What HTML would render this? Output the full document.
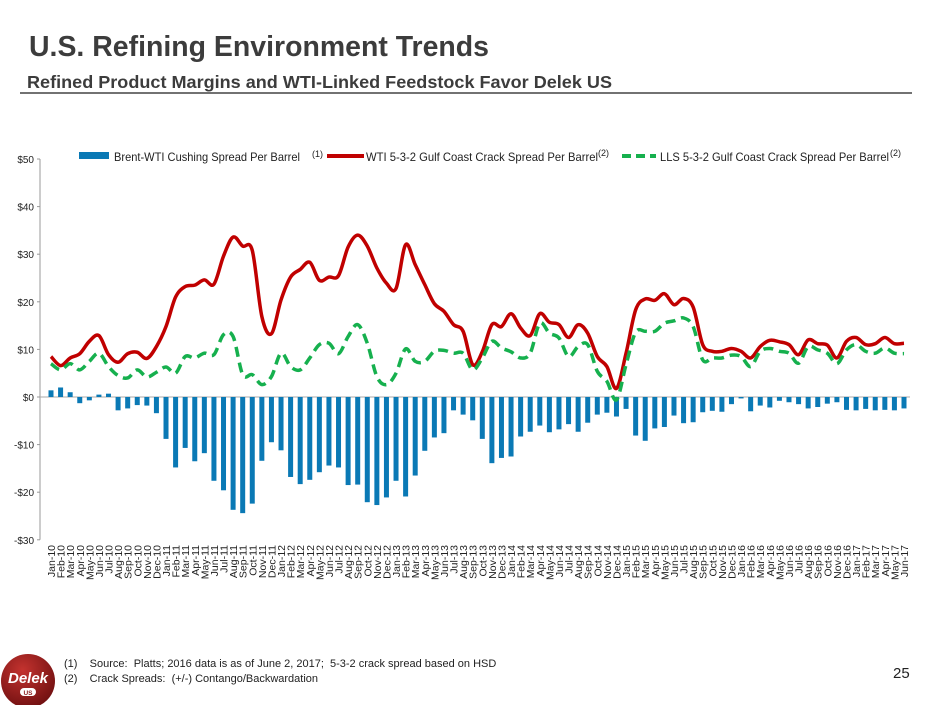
<!DOCTYPE html>
<html><head><meta charset="utf-8"><style>
body{margin:0;background:#fff;}
svg{display:block;font-family:"Liberation Sans",sans-serif;}
</style></head><body>
<svg id="chart" width="940" height="705" viewBox="0 0 940 705">
<defs><radialGradient id="lg" cx="40%" cy="30%" r="75%"><stop offset="0" stop-color="#c4332f"/><stop offset="1" stop-color="#6e0f10"/></radialGradient></defs>
<text x="29" y="56" font-size="29" font-weight="bold" fill="#3c3c3c" textLength="460" lengthAdjust="spacingAndGlyphs">U.S. Refining Environment Trends</text>
<text x="27" y="88" font-size="17.5" font-weight="bold" fill="#3c3c3c" textLength="585" lengthAdjust="spacingAndGlyphs">Refined Product Margins and WTI-Linked Feedstock Favor Delek US</text>
<line x1="20" y1="93" x2="912" y2="93" stroke="#444" stroke-width="1.5"/>
<g id="legend" font-size="12" fill="#222">
<rect x="79" y="152" width="30" height="7" fill="#0a79b5"/>
<text x="114" y="161" textLength="186" lengthAdjust="spacingAndGlyphs">Brent-WTI Cushing Spread Per Barrel</text>
<text x="312" y="157" font-size="9">(1)</text>
<line x1="327" y1="156" x2="364" y2="156" stroke="#c00000" stroke-width="4"/>
<text x="366" y="161" textLength="232" lengthAdjust="spacingAndGlyphs">WTI 5-3-2 Gulf Coast Crack Spread Per Barrel</text>
<text x="598" y="156" font-size="9">(2)</text>
<line x1="622" y1="156" x2="656" y2="156" stroke="#16b04e" stroke-width="4" stroke-dasharray="9,5"/>
<text x="660" y="161" textLength="229" lengthAdjust="spacingAndGlyphs">LLS 5-3-2 Gulf Coast Crack Spread Per Barrel</text>
<text x="890" y="156" font-size="9">(2)</text>
</g>
<g id="axes"></g>
<g id="bars"></g>
<g id="lines"></g>
<g id="xlabels"></g>
<text x="64" y="667" font-size="11" fill="#222" xml:space="preserve">(1)    Source:  Platts; 2016 data is as of June 2, 2017;  5-3-2 crack spread based on HSD</text>
<text x="64" y="682" font-size="11" fill="#222" xml:space="preserve">(2)    Crack Spreads:  (+/-) Contango/Backwardation</text>
<text x="893" y="678" font-size="15" fill="#222">25</text>
<g>
<circle cx="28" cy="681" r="27" fill="url(#lg)"/>
<text x="28" y="683" font-size="15" font-weight="bold" font-style="italic" fill="#fff" text-anchor="middle">Delek</text>
<rect x="20" y="688" width="16" height="8" rx="4" fill="#fff"/>
<text x="28" y="695" font-size="6.5" font-weight="bold" fill="#8a1a1a" text-anchor="middle">US</text>
</g>
</svg>
<script>
const months=["Jan","Feb","Mar","Apr","May","Jun","Jul","Aug","Sep","Oct","Nov","Dec"];
const categories=[];for(let y=10;y<=17;y++)for(let m=0;m<12;m++){if(y===17&&m>5)break;categories.push(months[m]+"-"+y);}
const brentWti=[1.4,2.0,1.0,-1.3,-0.7,0.5,0.7,-2.8,-2.4,-1.7,-1.8,-3.4,-8.8,-14.8,-10.7,-13.5,-11.8,-17.6,-19.6,-23.7,-24.4,-22.4,-13.4,-9.5,-11.2,-16.8,-18.3,-17.4,-15.8,-14.4,-14.8,-18.5,-18.4,-22.1,-22.7,-21.1,-17.6,-20.9,-16.5,-11.3,-8.5,-7.6,-2.8,-3.7,-4.9,-8.8,-13.9,-12.8,-12.5,-8.3,-7.3,-6.0,-7.4,-6.8,-5.7,-7.3,-5.4,-3.7,-3.3,-4.1,-2.5,-8.1,-9.2,-6.6,-6.3,-3.9,-5.5,-5.3,-3.2,-2.9,-3.1,-1.5,-0.3,-3.0,-1.8,-2.2,-0.8,-1.1,-1.5,-2.4,-2.1,-1.4,-1.1,-2.7,-2.8,-2.5,-2.8,-2.7,-2.8,-2.4];
const wtiCrack=[8.5,6.6,8.2,9.1,11.7,12.9,8.9,7.3,9.1,9.4,8.1,10.6,14.8,21.0,23.2,23.5,24.6,23.7,29.6,33.6,31.7,30.8,16.9,13.3,20.4,25.2,26.8,28.3,24.5,25.2,25.5,31.5,34.0,31.7,27.1,23.9,22.8,32.0,27.8,23.6,19.6,18.0,15.2,13.8,6.8,9.5,15.2,14.8,17.5,14.5,12.9,17.5,15.7,15.2,12.5,15.2,13.4,8.5,6.4,1.8,9.2,18.3,20.6,20.3,21.7,19.4,20.7,18.9,11.0,9.6,9.6,10.2,9.6,8.2,10.6,11.9,11.6,11.0,8.9,12.0,11.2,10.9,8.2,11.7,12.5,11.0,11.2,12.5,11.2,11.3];
const llsCrack=[7.0,5.7,7.0,5.7,7.5,9.2,6.4,4.5,4.0,5.7,4.2,5.2,6.3,5.0,8.5,8.2,9.2,8.9,13.1,12.7,4.7,4.7,2.6,4.3,9.2,6.4,5.7,8.2,11.0,11.3,9.1,12.7,15.2,11.3,4.3,2.6,5.0,10.1,7.5,7.5,9.6,9.8,9.2,9.2,5.7,8.2,11.7,10.3,9.5,8.2,9.2,15.5,13.4,12.4,8.5,10.6,11.0,5.4,3.3,-0.6,6.8,13.6,13.8,13.8,15.5,16.0,16.6,14.8,7.8,8.2,8.2,8.8,8.5,6.4,9.6,10.2,9.6,9.2,7.1,10.6,9.9,9.2,7.0,9.9,11.0,9.6,9.2,10.3,9.2,9.1];
const yTicks=[50,40,30,20,10,0,-10,-20,-30];
const yTickLabels=["$50","$40","$30","$20","$10","$0","-$10","-$20","-$30"];

const NS="http://www.w3.org/2000/svg";
const x0=51,dx=(904-51)/89;
function xs(i){return x0+i*dx;}
function ys(v){return 397-v*4.76;}
function mk(t,a,p){const e=document.createElementNS(NS,t);for(const k in a)e.setAttribute(k,a[k]);p.appendChild(e);return e;}
const axes=document.getElementById('axes');
const yaxis=mk('line',{x1:40,y1:ys(50),x2:40,y2:ys(-30),stroke:'#999','stroke-width':1},axes);


yTicks.forEach((v,i)=>{
  const t=mk('line',{x1:37,x2:40,y1:ys(v),y2:ys(v),stroke:'#999'},axes);
  
  
  const l=mk('text',{x:34,y:ys(v)+4,'font-size':10,'text-anchor':'end',fill:'#222'},axes);
  l.textContent=yTickLabels[i];
  
  
});
const xaxis=mk('line',{x1:40,x2:910,y1:ys(0),y2:ys(0),stroke:'#aaa','stroke-width':1},axes);


const bars=document.getElementById('bars');
brentWti.forEach((v,i)=>{
  const y=Math.min(ys(v),ys(0)),h=Math.abs(ys(v)-ys(0));
  const r=mk('rect',{x:xs(i)-2.5,y:y,width:5,height:h,fill:'#0a79b5'},bars);
  
  
});
function smooth(vals){
  const p=vals.map((v,i)=>[xs(i),ys(v)]);let d='M'+p[0][0]+','+p[0][1];
  for(let i=0;i<p.length-1;i++){const a=p[i-1]||p[i],b=p[i],c=p[i+1],e=p[i+2]||c;
    d+=' C'+(b[0]+(c[0]-a[0])/6)+','+(b[1]+(c[1]-a[1])/6)+' '+(c[0]-(e[0]-b[0])/6)+','+(c[1]-(e[1]-b[1])/6)+' '+c[0]+','+c[1];}
  return d;}
const lines=document.getElementById('lines');
const wl=mk('path',{d:smooth(wtiCrack),fill:'none',stroke:'#c00000','stroke-width':3.5},lines);


const ll=mk('path',{d:smooth(llsCrack),fill:'none',stroke:'#16b04e','stroke-width':3.5,'stroke-dasharray':'10,6'},lines);


const xl=document.getElementById('xlabels');
categories.forEach((c,i)=>{
  const t=mk('text',{x:0,y:0,'font-size':10.5,'text-anchor':'end',fill:'#222',transform:'translate('+(xs(i)+4)+',545) rotate(-90)'},xl);
  t.textContent=c;
  
  
});
</script>
</body></html>
